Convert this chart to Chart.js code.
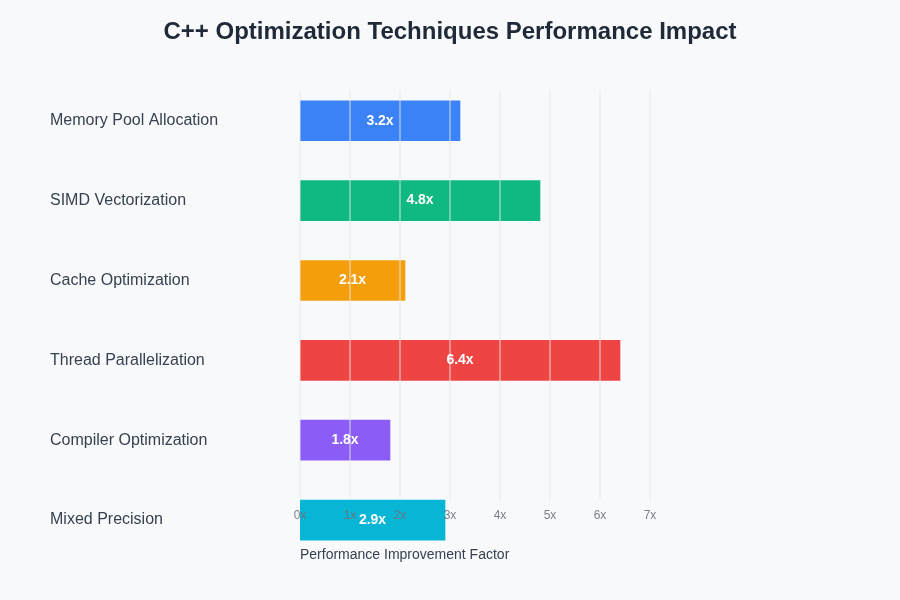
<!DOCTYPE html>
<html>
<head>
<meta charset="utf-8">
<script src="https://cdn.jsdelivr.net/npm/chart.js@4"></script>
<style>
  html, body { margin: 0; padding: 0; background: #f8f9fb; }
  #wrap { width: 900px; height: 600px; }
</style>
</head>
<body>
<div id="wrap"><canvas id="chart"></canvas></div>
<script>
// data
const techniques = [
  "Memory Pool Allocation",
  "SIMD Vectorization",
  "Cache Optimization",
  "Thread Parallelization",
  "Compiler Optimization",
  "Mixed Precision"
];
const speedups = [3.2, 4.8, 2.1, 6.4, 1.8, 2.9];
const barColors = ["#3b82f6", "#10b981", "#f59e0b", "#ef4444", "#8b5cf6", "#06b6d4"];
const tickValues = [0, 1, 2, 3, 4, 5, 6, 7];
const xTitle = "Performance Improvement Factor";

const FONT = "'Liberation Sans', Arial, Helvetica, sans-serif";
const BAR_H = 40;

// gridlines, tick labels, value labels and axis title drawn on top of the bars
const overlay = {
  id: "overlay",
  afterDatasetsDraw(chart) {
    const ctx = chart.ctx;
    const x = chart.scales.x;
    const y = chart.scales.y;
    const area = chart.chartArea;
    const gridTop = area.top + 10;
    const gridBottom = y.getPixelForValue(techniques.length - 1) - BAR_H / 2;

    ctx.save();
    ctx.globalAlpha = 0.6;
    ctx.strokeStyle = "#e5e7eb";
    ctx.lineWidth = 1.5;
    tickValues.forEach(v => {
      const px = x.getPixelForValue(v);
      ctx.beginPath();
      ctx.moveTo(px, gridTop);
      ctx.lineTo(px, gridBottom);
      ctx.stroke();
    });
    ctx.restore();

    // value labels
    ctx.save();
    ctx.font = "bold 14px " + FONT;
    ctx.fillStyle = "#ffffff";
    ctx.textAlign = "center";
    ctx.textBaseline = "middle";
    speedups.forEach((v, i) => {
      const cx = (x.getPixelForValue(0) + x.getPixelForValue(v)) / 2;
      ctx.fillText(v + "x", cx, y.getPixelForValue(i));
    });
    ctx.restore();

    // tick labels
    ctx.save();
    ctx.font = "12px " + FONT;
    ctx.fillStyle = "rgba(107,114,128,0.9)";
    ctx.textAlign = "center";
    ctx.textBaseline = "middle";
    tickValues.forEach(v => {
      ctx.fillText(v + "x", x.getPixelForValue(v), gridBottom + 16);
    });
    ctx.restore();

    // axis title
    ctx.save();
    ctx.font = "14px " + FONT;
    ctx.fillStyle = "#374151";
    ctx.textAlign = "left";
    ctx.textBaseline = "middle";
    ctx.fillText(xTitle, x.getPixelForValue(0), gridBottom + 55);
    ctx.restore();
  }
};

new Chart(document.getElementById("chart"), {
  type: "bar",
  data: {
    labels: techniques,
    datasets: [{
      data: speedups,
      backgroundColor: barColors,
      borderWidth: 0,
      barThickness: BAR_H
    }]
  },
  options: {
    indexAxis: "y",
    responsive: true,
    maintainAspectRatio: false,
    animation: false,
    layout: { padding: { left: 50, right: 50, top: 0, bottom: 40 } },
    plugins: {
      legend: { display: false },
      tooltip: { enabled: false },
      title: {
        display: true,
        text: "C++ Optimization Techniques Performance Impact",
        color: "#1f2937",
        font: { family: FONT, size: 24, weight: "bold" },
        padding: { top: 18, bottom: 34 }
      }
    },
    scales: {
      x: {
        display: false,
        min: 0,
        max: 11
      },
      y: {
        grid: { display: false },
        border: { display: false },
        afterFit(scale) { scale.width = 250; },
        ticks: {
          crossAlign: "far",
          padding: 0,
          color: "#374151",
          font: { family: FONT, size: 16 }
        }
      }
    }
  },
  plugins: [overlay]
});
</script>
</body>
</html>
